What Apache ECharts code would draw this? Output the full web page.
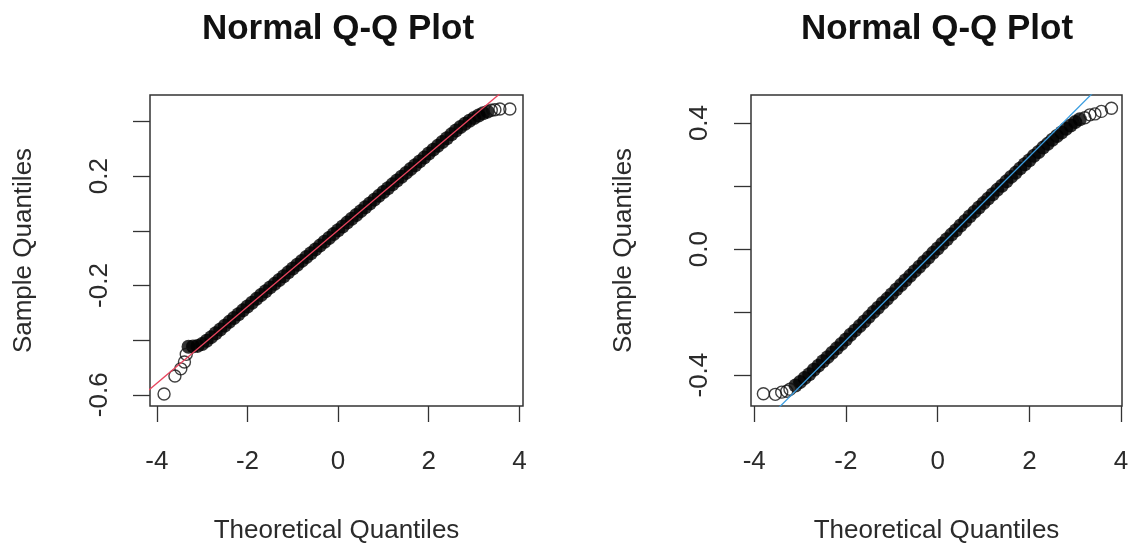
<!DOCTYPE html>
<html><head><meta charset="utf-8">
<script src="https://cdn.jsdelivr.net/npm/echarts@6/dist/echarts.min.js"></script>
<style>html,body{margin:0;padding:0;background:#fff}#c{width:1132px;height:549px}</style>
</head><body><div id="c"></div>
<script>
// ---------- data ----------
const titleText = 'Normal Q-Q Plot';
const xName = 'Theoretical Quantiles';
const yName = 'Sample Quantiles';
const xTicks = [-4, -2, 0, 2, 4];
const leftYTicks = [-0.6, -0.4, -0.2, 0, 0.2, 0.4];
const leftYLabels = [-0.6, -0.2, 0.2];
const rightYTicks = [-0.4, -0.2, 0, 0.2, 0.4];
const rightYLabels = [-0.4, 0, 0.4];
const leftXRange = [-4.15, 4.08];
const leftYRange = [-0.641, 0.497];
const rightXRange = [-4.07, 4.02];
const rightYRange = [-0.498, 0.489];

// left panel: dense band of points [theoretical, sample]
const leftCore = [
  [-3.3,-0.424],[-3.2,-0.423],[-3.1,-0.421],[-3.0,-0.414],[-2.9,-0.402],[-2.8,-0.389],[-2.7,-0.375],
  [-2.6,-0.361],[-2.5,-0.347],[-2.4,-0.333],[-2.3,-0.319],[-2.2,-0.305],[-2.1,-0.291],[-2.0,-0.277],
  [-1.9,-0.263],[-1.8,-0.249],[-1.7,-0.235],[-1.6,-0.221],[-1.5,-0.207],[-1.4,-0.194],[-1.3,-0.180],
  [-1.2,-0.166],[-1.1,-0.152],[-1.0,-0.138],[-0.9,-0.124],[-0.8,-0.110],[-0.7,-0.096],[-0.6,-0.082],
  [-0.5,-0.068],[-0.4,-0.054],[-0.3,-0.040],[-0.2,-0.026],[-0.1,-0.012],[0.0,0.002],[0.1,0.016],
  [0.2,0.030],[0.3,0.044],[0.4,0.058],[0.5,0.072],[0.6,0.086],[0.7,0.100],[0.8,0.114],[0.9,0.128],
  [1.0,0.142],[1.1,0.156],[1.2,0.170],[1.3,0.184],[1.4,0.198],[1.5,0.212],[1.6,0.226],[1.7,0.240],
  [1.8,0.254],[1.9,0.268],[2.0,0.283],[2.1,0.297],[2.2,0.311],[2.3,0.325],[2.4,0.339],[2.5,0.353],
  [2.6,0.367],[2.7,0.380],[2.8,0.392],[2.9,0.403],[3.0,0.413],[3.1,0.422],[3.2,0.430],[3.3,0.436]
];
// left panel: sparse tail points
const leftTails = [
  [-3.84,-0.597],[-3.60,-0.531],[-3.47,-0.505],[-3.39,-0.480],[-3.35,-0.452],
  [3.38,0.441],[3.46,0.443],[3.57,0.446],[3.79,0.446]
];
// left reference line (two points on the qqline)
const leftLine = [[-4.4,-0.614],[4.4,0.618]];

// right panel
const rightCore = [
  [-3.1,-0.433],[-3.0,-0.422],[-2.9,-0.409],[-2.8,-0.397],[-2.7,-0.383],[-2.6,-0.370],[-2.5,-0.356],
  [-2.4,-0.343],[-2.3,-0.329],[-2.2,-0.315],[-2.1,-0.301],[-2.0,-0.287],[-1.9,-0.272],[-1.8,-0.258],
  [-1.7,-0.244],[-1.6,-0.230],[-1.5,-0.215],[-1.4,-0.200],[-1.3,-0.186],[-1.2,-0.171],[-1.1,-0.158],
  [-1.0,-0.143],[-0.9,-0.128],[-0.8,-0.114],[-0.7,-0.099],[-0.6,-0.085],[-0.5,-0.070],[-0.4,-0.056],
  [-0.3,-0.041],[-0.2,-0.027],[-0.1,-0.012],[0.0,0.002],[0.1,0.017],[0.2,0.031],[0.3,0.046],
  [0.4,0.060],[0.5,0.075],[0.6,0.089],[0.7,0.104],[0.8,0.118],[0.9,0.132],[1.0,0.146],[1.1,0.160],
  [1.2,0.174],[1.3,0.188],[1.4,0.201],[1.5,0.215],[1.6,0.229],[1.7,0.242],[1.8,0.256],[1.9,0.269],
  [2.0,0.282],[2.1,0.296],[2.2,0.308],[2.3,0.322],[2.4,0.334],[2.5,0.347],[2.6,0.359],[2.7,0.370],
  [2.8,0.382],[2.9,0.392],[3.0,0.403],[3.1,0.412]
];
const rightTails = [
  [-3.80,-0.459],[-3.54,-0.461],[-3.40,-0.454],[-3.29,-0.451],[-3.22,-0.445],
  [3.21,0.417],[3.32,0.426],[3.43,0.429],[3.57,0.437],[3.79,0.447]
];
const rightLine = [[-4.4,-0.640],[4.4,0.644]];

// ---------- chart ----------
const FONT = '"Liberation Sans", Arial, sans-serif';
const TXT = '#2b2b2b';
const chart = echarts.init(document.getElementById('c'), null, {renderer: 'canvas'});

function xAxisFor(gi, range) {
  return {
    type: 'value', gridIndex: gi, min: range[0], max: range[1],
    name: xName, nameLocation: 'middle', nameGap: 112,
    nameTextStyle: {fontFamily: FONT, fontSize: 26, color: TXT},
    axisLine: {show: false, onZero: false},
    axisTick: {show: true, length: 16, customValues: xTicks, lineStyle: {color: '#333', width: 1.3}},
    axisLabel: {customValues: xTicks, margin: 43, fontFamily: FONT, fontSize: 26, color: TXT,
      formatter: v => String(v)},
    splitLine: {show: false}
  };
}
function yAxisFor(gi, range, ticks, labels, nameGap, labelMargin) {
  return {
    type: 'value', gridIndex: gi, min: range[0], max: range[1],
    name: yName, nameLocation: 'middle', nameGap: nameGap, nameRotate: 90,
    nameTextStyle: {fontFamily: FONT, fontSize: 26, color: TXT},
    axisLine: {show: false, onZero: false},
    axisTick: {show: true, length: 17, customValues: ticks, lineStyle: {color: '#333', width: 1.3}},
    axisLabel: {customValues: labels, rotate: 90, margin: labelMargin, fontFamily: FONT, fontSize: 26,
      color: TXT, formatter: v => Number(v).toFixed(1)},
    splitLine: {show: false}
  };
}
function coreSeries(i, data) {
  return {type: 'scatter', xAxisIndex: i, yAxisIndex: i, data: data, symbol: 'circle', symbolSize: 14,
    itemStyle: {color: '#000'}, z: 2, silent: true};
}
function tailSeries(i, data) {
  return {type: 'scatter', xAxisIndex: i, yAxisIndex: i, data: data, symbol: 'circle', symbolSize: 12,
    itemStyle: {color: 'rgba(0,0,0,0)', borderColor: '#111', borderWidth: 1.4}, z: 2, silent: true};
}
function lineSeries(i, data, color) {
  return {type: 'line', xAxisIndex: i, yAxisIndex: i, data: data, showSymbol: false, clip: true,
    lineStyle: {color: color, width: 1.3}, z: 3, silent: true};
}

chart.setOption({
  animation: false,
  backgroundColor: '#fff',
  title: [
    {text: titleText, left: 338, top: 12, textAlign: 'center', textVerticalAlign: 'top', padding: 0,
      textStyle: {fontFamily: FONT, fontSize: 35, fontWeight: 'bold', color: '#111'}},
    {text: titleText, left: 937, top: 12, textAlign: 'center', textVerticalAlign: 'top', padding: 0,
      textStyle: {fontFamily: FONT, fontSize: 35, fontWeight: 'bold', color: '#111'}}
  ],
  grid: [
    {left: 150, top: 95, width: 373, height: 312, show: true, borderColor: '#333', borderWidth: 1.5, backgroundColor: 'transparent'},
    {left: 751, top: 95, width: 371, height: 312, show: true, borderColor: '#333', borderWidth: 1.5, backgroundColor: 'transparent'}
  ],
  xAxis: [xAxisFor(0, leftXRange), xAxisFor(1, rightXRange)],
  yAxis: [
    yAxisFor(0, leftYRange, leftYTicks, leftYLabels, 113, 37),
    yAxisFor(1, rightYRange, rightYTicks, rightYLabels, 114, 38)
  ],
  series: [
    coreSeries(0, leftCore), tailSeries(0, leftTails), lineSeries(0, leftLine, '#e8455e'),
    coreSeries(1, rightCore), tailSeries(1, rightTails), lineSeries(1, rightLine, '#3a9de0')
  ]
});
</script>
</body></html>
